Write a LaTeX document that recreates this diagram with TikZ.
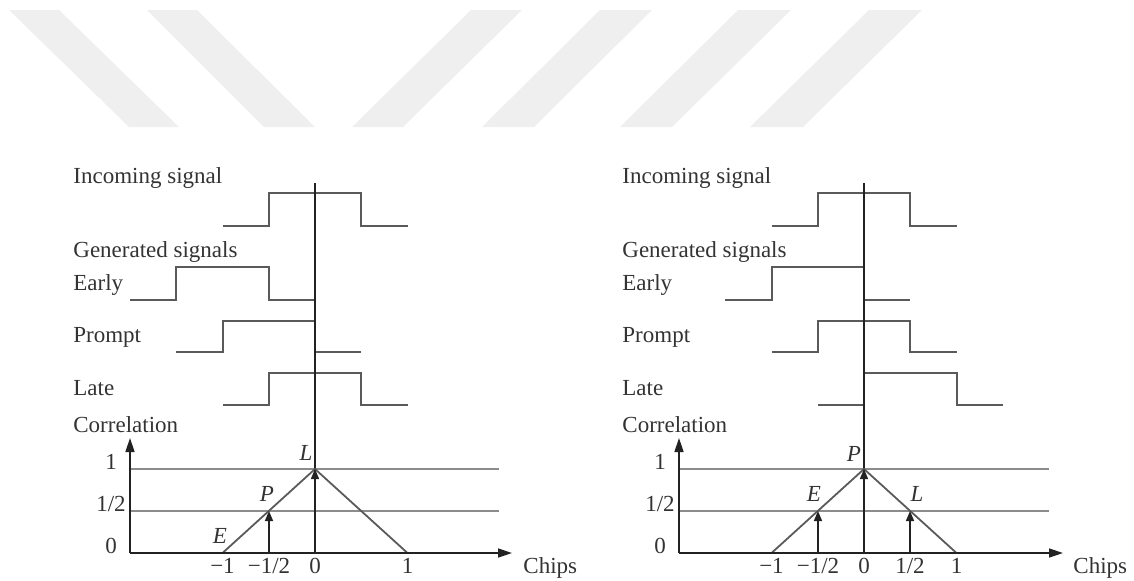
\documentclass[tikz,border=0pt]{standalone}
\usepackage{fontspec}
\setmainfont{Liberation Serif}
\usetikzlibrary{arrows.meta}
\definecolor{ink}{HTML}{333333}
\definecolor{wavegray}{HTML}{5A5A5A}
\definecolor{levelgray}{HTML}{8C8C8C}
\definecolor{axisdark}{HTML}{222222}
\definecolor{bandgray}{HTML}{EFEFEF}
\begin{document}
\begin{tikzpicture}[x=0.5pt,y=-0.5pt,
  font=\fontsize{11.5}{13}\selectfont,
  lbl/.style={anchor=base west,text=ink,inner sep=0pt},
  ticklbl/.style={anchor=base,text=ink,inner sep=0pt},
  tag/.style={anchor=base,text=ink,inner sep=0pt,font=\fontsize{11.5}{13}\selectfont\itshape},
  wave/.style={draw=wavegray,line width=1pt},
  refline/.style={draw=axisdark,line width=0.8pt},
  level/.style={draw=levelgray,line width=1pt},
  tri/.style={draw=wavegray,line width=0.9pt},
  axis/.style={draw=axisdark,line width=0.8pt,-{Triangle[length=7pt,width=4.5pt]}},
  hit/.style={draw=axisdark,line width=0.8pt,-{Triangle[length=5pt,width=4pt]}},
  band/.style={fill=bandgray,draw=none}]
\useasboundingbox (0,0) rectangle (1134,580);

% light slanted bands across the top
\fill[band] (9,10) -- (59,10) -- (179,127) -- (129,127) -- cycle;
\fill[band] (147,10) -- (197,10) -- (315,127) -- (264,127) -- cycle;
\fill[band] (471,10) -- (522,10) -- (403,127) -- (352,127) -- cycle;
\fill[band] (600,10) -- (652,10) -- (534,127) -- (482,127) -- cycle;
\fill[band] (738,10) -- (791,10) -- (672,127) -- (620,127) -- cycle;
\fill[band] (869,10) -- (922,10) -- (803,127) -- (750,127) -- cycle;

% ================= left panel: code early by one chip =================
\begin{scope}
\node[lbl] (inL) at (73,183) {Incoming signal};
\node[lbl] (genL) at (73,257) {Generated signals};
\node[lbl] (earlyL) at (73,290) {Early};
\node[lbl] (promptL) at (73,342) {Prompt};
\node[lbl] (lateL) at (73,395) {Late};
\node[lbl] (corrL) at (73,432) {Correlation};

% waveforms
\draw[wave] (222.5,226) -- (269,226) -- (269,193) -- (361,193) -- (361,226) -- (407.5,226);
\draw[wave] (130,300) -- (176,300) -- (176,267) -- (269,267) -- (269,300) -- (315,300);
\draw[wave] (176,352) -- (222.5,352) -- (222.5,321) -- (315,321) -- (315,352) -- (361,352);
\draw[wave] (222.5,405) -- (269,405) -- (269,373) -- (361,373) -- (361,405) -- (407.5,405);

% correlation plot
\coordinate (oL) at (130,553);
\coordinate (yL) at (130,438);
\coordinate (xL) at (512,553);
\coordinate (zeroL) at (315,553);
\coordinate (topL) at (315,183);
\coordinate (peakL) at (315,469);
\coordinate (mL) at (269,553);
\coordinate (mhL) at (269,511);
\coordinate (aL) at (222.5,553);
\coordinate (bL) at (407.5,553);
\draw[level] (130,469) -- (499,469);
\draw[level] (130,511) -- (499,511);
\draw[refline] (topL) -- (zeroL);
\draw[tri] (aL) -- (peakL) -- (bL);
\draw[axis] (oL) -- (yL);
\draw[axis] (oL) -- (xL);
\draw[hit] (mL) -- (mhL);
\draw[hit] (zeroL) -- (peakL);

\node[ticklbl] (y1L) at (111,469) {1};
\node[ticklbl] (yhL) at (111,511) {1/2};
\node[ticklbl] (y0L) at (111,553) {0};
\node[ticklbl] (tm1L) at (222.5,573) {−1};
\node[ticklbl] (tmhL) at (269,573) {−1/2};
\node[ticklbl] (t0L) at (315,573) {0};
\node[ticklbl] (t1L) at (407.5,573) {1};
\node[lbl] (chipsL) at (523,573) {Chips};

\node[tag] (LL) at (306,460) {L};
\node[tag] (PL) at (267,501) {P};
\node[tag] (EL) at (220,543) {E};
\end{scope}

% ================= right panel: prompt code aligned =================
\begin{scope}[xshift=274.5pt]
\node[lbl] (inR) at (73,183) {Incoming signal};
\node[lbl] (genR) at (73,257) {Generated signals};
\node[lbl] (earlyR) at (73,290) {Early};
\node[lbl] (promptR) at (73,342) {Prompt};
\node[lbl] (lateR) at (73,395) {Late};
\node[lbl] (corrR) at (73,432) {Correlation};

% waveforms
\draw[wave] (222.5,226) -- (269,226) -- (269,193) -- (361,193) -- (361,226) -- (407.5,226);
\draw[wave] (176,300) -- (222.5,300) -- (222.5,267) -- (315,267) -- (315,300) -- (361,300);
\draw[wave] (222.5,352) -- (269,352) -- (269,321) -- (361,321) -- (361,352) -- (407.5,352);
\draw[wave] (269,405) -- (315,405) -- (315,373) -- (407.5,373) -- (407.5,405) -- (454,405);

% correlation plot
\coordinate (oR) at (130,553);
\coordinate (yR) at (130,438);
\coordinate (xR) at (514,553);
\coordinate (zeroR) at (315,553);
\coordinate (topR) at (315,183);
\coordinate (peakR) at (315,469);
\coordinate (mR) at (269,553);
\coordinate (mhR) at (269,511);
\coordinate (pR) at (361,553);
\coordinate (phR) at (361,511);
\coordinate (aR) at (222.5,553);
\coordinate (bR) at (407.5,553);
\draw[level] (130,469) -- (500,469);
\draw[level] (130,511) -- (500,511);
\draw[refline] (topR) -- (zeroR);
\draw[tri] (aR) -- (peakR) -- (bR);
\draw[axis] (oR) -- (yR);
\draw[axis] (oR) -- (xR);
\draw[hit] (mR) -- (mhR);
\draw[hit] (pR) -- (phR);
\draw[hit] (zeroR) -- (peakR);

\node[ticklbl] (y1R) at (111,469) {1};
\node[ticklbl] (yhR) at (111,511) {1/2};
\node[ticklbl] (y0R) at (111,553) {0};
\node[ticklbl] (tm1R) at (222.5,573) {−1};
\node[ticklbl] (tmhR) at (269,573) {−1/2};
\node[ticklbl] (t0R) at (315,573) {0};
\node[ticklbl] (thR) at (361,573) {1/2};
\node[ticklbl] (t1R) at (407.5,573) {1};
\node[lbl] (chipsR) at (524,573) {Chips};

\node[tag] (PR) at (305,461) {P};
\node[tag] (ER) at (265,501) {E};
\node[tag] (LR) at (368,501) {L};
\end{scope}
\end{tikzpicture}
\end{document}
